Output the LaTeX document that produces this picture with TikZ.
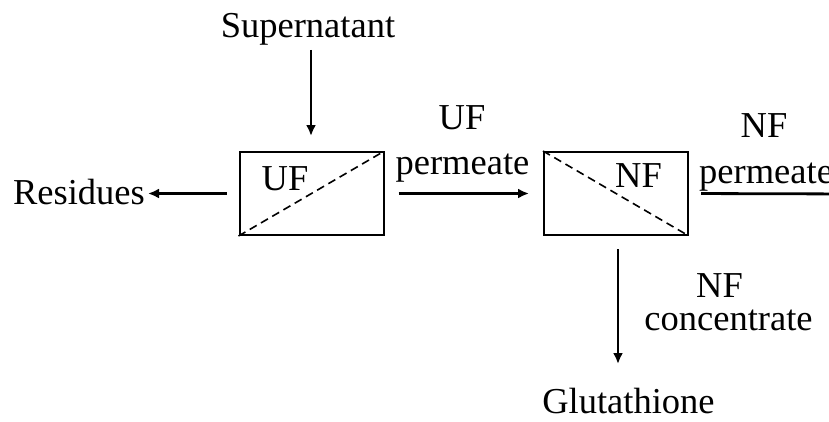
\documentclass[tikz,border=0pt]{standalone}
\usepackage{fontspec}
\setmainfont{Liberation Serif}
\usetikzlibrary{arrows.meta}
\begin{document}
\begin{tikzpicture}[x=1pt,y=-1pt,
  lbl/.style={inner sep=0pt,anchor=base,font=\fontsize{36.5}{40}\selectfont},
  membrane/.style={draw,line width=2pt,minimum width=144pt,minimum height=83pt,inner sep=0pt},
  split/.style={line width=1.6pt,dash pattern=on 8pt off 5pt},
  flow/.style={line width=2.8pt,-{Latex[length=11pt,width=10pt]}},
  plain/.style={line width=2.8pt}]
\useasboundingbox (0,0) rectangle (829,421);

% membrane units
\node[membrane] (uf) at (311.5,193.5) {};
\node[membrane] (nf) at (616,193.5) {};
\draw[split] (uf.south west) -- (uf.north east);
\draw[split] (nf.north west) -- (nf.south east);
\node[lbl] (uftxt) at (285,190) {UF};
\node[lbl] (nftxt) at (638.5,187) {NF};

% streams
\node[lbl] (sup) at (308,37) {Supernatant};
\node[lbl,anchor=base east] (res) at (145,204) {Residues};
\node[lbl] (glu) at (628.5,413) {Glutathione};

\node[lbl] (ufp1) at (462,129) {UF};
\node[lbl] (ufp2) at (462.5,174) {permeate};
\node[lbl] (nfp1) at (764,137) {NF};
\node[lbl,anchor=base west] (nfp2) at (699,183) {permeate};
\node[lbl] (nfc1) at (719.5,297) {NF};
\node[lbl] (nfc2) at (728.5,330) {concentrate};

\coordinate (suptip) at (311,136);
\coordinate (gtip) at (618,364);
\coordinate (nfout) at (860,194);

\draw[flow] (suptip |- sup.south) ++(0,5) -- (suptip);
\draw[flow,shorten <=12pt,shorten >=3pt] (uf.west) -- (res.east |- uf.west);
\draw[flow,shorten <=14pt,shorten >=14pt] (uf.east) -- (nf.west);
\draw[plain,shorten <=12pt] (nf.east) -- (nfout);
\draw[flow,shorten <=13pt] (nf.south -| gtip) -- (gtip);
\end{tikzpicture}
\end{document}
